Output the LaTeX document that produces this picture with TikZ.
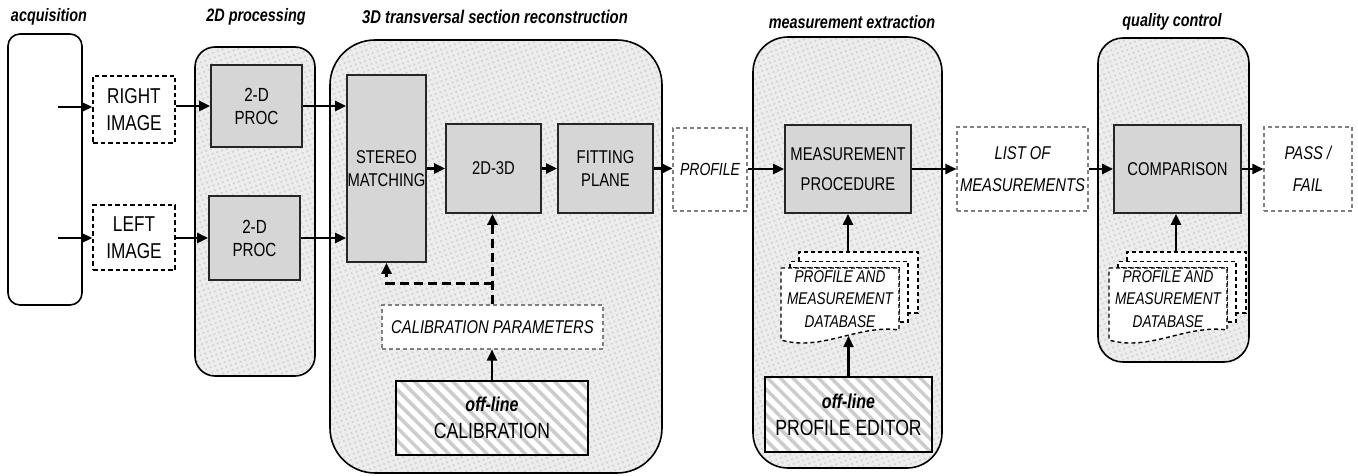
\documentclass[tikz,border=0pt]{standalone}
\usepackage{fontspec}
\setmainfont{Liberation Sans}[FakeStretch=0.8]
\usetikzlibrary{arrows.meta,patterns,patterns.meta}
\newcommand\fsz[2]{\fontsize{#1}{#2}\selectfont}
\tikzset{
  cont/.style={draw=black, line width=1.6pt,
    preaction={fill=black!7},
    preaction={pattern={Dots[distance=5pt,radius=1.3pt,angle=20]}, pattern color=black!17}},
  proc/.style={draw=black!85, line width=1.7pt, fill=black!16, align=center, inner sep=0pt},
  bdash/.style={draw=black, line width=1.5pt, dash pattern=on 4.5pt off 3pt, fill=white, align=center, inner sep=0pt},
  gdash/.style={draw=black!50, line width=1.1pt, dash pattern=on 4pt off 3pt, fill=white, align=center, inner sep=0pt},
  hatchbox/.style={draw=black, line width=1.7pt, align=center, inner sep=0pt,
    preaction={fill=white},
    preaction={pattern={Lines[angle=-45,distance=9pt,line width=3.5pt]}, pattern color=black!20}},
  arr/.style={-{Triangle[length=11pt,width=10pt]}, line width=2.2pt},
  darr/.style={-{Triangle[length=11pt,width=10pt]}, line width=3pt, dash pattern=on 9pt off 5pt},
  ttl/.style={font=\fsz{18}{22}\bfseries\itshape},
  dbl/.style={draw=black, line width=1.4pt, dash pattern=on 4pt off 3pt, fill=white},
  dbstack/.pic={
    \draw[dbl] (18,0) -- (18,-16) -- (137,-16) -- (137,45) -- (127,45) -- (127,0) -- cycle;
    \draw[dbl] (9,0) -- (9,-6.5) -- (127,-6.5) -- (127,54) -- (118,54) -- (118,0) -- cycle;
    \draw[dbl] (0,0) -- (118,0) -- (118,62) .. controls (78,56) and (40,84) .. (0,72) -- cycle;
    \node[align=center, inner sep=0pt, font=\fsz{17}{22.5}\itshape] (-txt) at (59,31) {PROFILE AND\\MEASUREMENT\\DATABASE};
    \coordinate (-top) at (67,-16);
    \coordinate (-bot) at (67,68);
  }
}
\begin{document}
\begin{tikzpicture}[x=1pt,y=-1pt]
\useasboundingbox (0,0) rectangle (1358,476);
% titles
\node[ttl] (t1) at (49,17) {acquisition};
\node[ttl] (t2) at (256,17) {2D processing};
\node[ttl] (t3) at (495,17) {\fsz{18.5}{22}3D transversal section reconstruction};
\node[ttl] (t4) at (852,22) {measurement extraction};
\node[ttl] (t5) at (1172,22) {quality control};
% containers
\draw[line width=1.6pt, rounded corners=12pt] (8,34) rectangle (82,305);
\draw[cont, rounded corners=20pt] (195,47) rectangle (315,376);
\draw[cont, rounded corners=45pt] (330,40) rectangle (662,473);
\draw[cont, rounded corners=35pt] (753,37) rectangle (942,468);
\draw[cont, rounded corners=25pt] (1098,38) rectangle (1249,362);
% acquisition / images
\node[bdash, minimum width=82pt, minimum height=67pt, font=\fsz{21.5}{26.5}] (ri) at (134,109.5) {RIGHT\\IMAGE};
\node[bdash, minimum width=82pt, minimum height=65pt, font=\fsz{21.5}{26.5}] (li) at (134,237.5) {LEFT\\IMAGE};
\coordinate (a1) at (58,107);
\coordinate (a2) at (58,238);
% 2D processing
\node[proc, minimum width=91pt, minimum height=82pt, font=\fsz{19}{23}] (p1) at (256.5,106) {2-D\\PROC};
\node[proc, minimum width=91pt, minimum height=84pt, font=\fsz{19}{23}] (p2) at (254.5,238) {2-D\\PROC};
% 3D reconstruction
\node[proc, minimum width=79pt, minimum height=187pt, font=\fsz{18.5}{23}] (st) at (386.5,168.5) {STEREO\\MATCHING};
\node[proc, minimum width=95pt, minimum height=89pt, font=\fsz{18.5}{23}] (t23) at (493.5,168.5) {2D-3D};
\node[proc, minimum width=95pt, minimum height=89pt, font=\fsz{18.5}{23}] (fp) at (605.5,168.5) {FITTING\\PLANE};
\node[gdash, minimum width=221pt, minimum height=44pt, font=\fsz{18.5}{23}\itshape] (cp) at (492.5,327) {CALIBRATION PARAMETERS};
\node[hatchbox, minimum width=192pt, minimum height=74pt, font=\fsz{22}{27}] (cal) at (492,418) {{\fsz{20}{27}\bfseries\itshape off-line}\\CALIBRATION};
\coordinate (br) at (492.5,283);
% profile
\node[gdash, minimum width=74pt, minimum height=83pt, font=\fsz{17.5}{23}\itshape] (prof) at (710,169.5) {PROFILE};
% measurement extraction
\node[proc, minimum width=126pt, minimum height=88pt, font=\fsz{18.5}{30}] (mp) at (848,169) {MEASUREMENT\\PROCEDURE};
\pic (db1) at (781,268) {dbstack};
\node[hatchbox, minimum width=167pt, minimum height=75pt, font=\fsz{22}{27}] (pe) at (848.5,414.5) {{\fsz{20}{27}\bfseries\itshape off-line}\\PROFILE EDITOR};
\node[gdash, minimum width=131pt, minimum height=84pt, font=\fsz{18.5}{32}\itshape] (lom) at (1022.5,169) {LIST OF\\MEASUREMENTS};
% quality control
\node[proc, minimum width=127pt, minimum height=88pt, font=\fsz{18.5}{23}] (cmp) at (1177.5,169) {COMPARISON};
\pic (db2) at (1109,268) {dbstack};
\node[gdash, minimum width=88pt, minimum height=84pt, font=\fsz{18.5}{32}\itshape] (pf) at (1308,169) {PASS /\\FAIL};
% connectors
\draw[arr] (a1) -- (a1 -| ri.west);
\draw[arr] (a2) -- (a2 -| li.west);
\draw[arr] (p1.west -| ri.east) -- (p1.west);
\draw[arr] (p2.west -| li.east) -- (p2.west);
\draw[arr] (p1.east) -- (p1.east -| st.west);
\draw[arr] (p2.east) -- (p2.east -| st.west);
\draw[arr] (st.east) -- (t23.west);
\draw[arr] (t23.east) -- (fp.west);
\draw[arr] (fp.east) -- (fp.east -| prof.west);
\draw[arr] (prof.east |- mp.west) -- (mp.west);
\draw[arr] (mp.east) -- (mp.east -| lom.west);
\draw[arr] (lom.east |- cmp.west) -- (cmp.west);
\draw[arr] (cmp.east) -- (cmp.east -| pf.west);
\draw[darr] (cp.north) -- (cp.north |- t23.south);
\draw[darr] (br) -| (st.south);
\draw[arr] (cal.north) -- (cal.north |- cp.south);
\draw[arr] (db1-top -| mp.south) -- (mp.south);
\draw[arr] (pe.north) -- (pe.north |- db1-bot);
\draw[arr] (db2-top) -- (db2-top |- cmp.south);
\end{tikzpicture}
\end{document}
